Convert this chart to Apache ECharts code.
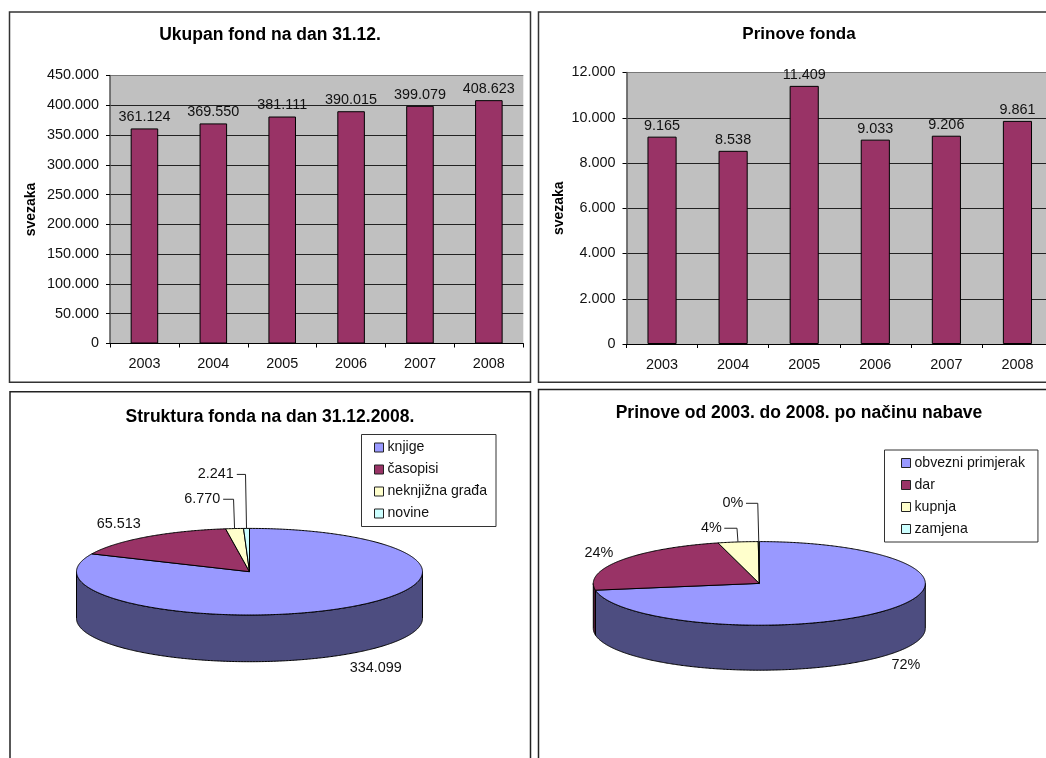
<!DOCTYPE html>
<html>
<head>
<meta charset="utf-8">
<title>Fond</title>
<script src="https://cdn.jsdelivr.net/npm/echarts@6/dist/echarts.min.js"></script>
<style>
  html, body { margin: 0; padding: 0; background: #fff; overflow: hidden; }
  #main { width: 1046px; height: 758px; }
</style>
</head>
<body>
<div id="main"></div>
<script>
"use strict";
// podaci
const years = ['2003', '2004', '2005', '2006', '2007', '2008'];
const ukupanFond = [361124, 369550, 381111, 390015, 399079, 408623];
const prinove = [9165, 8538, 11409, 9033, 9206, 9861];

const strukturaNames = ['knjige', 'časopisi', 'neknjižna građa', 'novine'];
const strukturaValues = [334099, 65513, 6770, 2241];

const nabavaNames = ['obvezni primjerak', 'dar', 'kupnja', 'zamjena'];
const nabavaValues = [72.4, 23.6, 3.9, 0.1]; // postoci, procjena sa slike

const pieColors = ['#9999FF', '#993366', '#FFFFCC', '#CCFFFF'];
const font = '"Liberation Sans", Arial, sans-serif';
const textColor = '#111';

const chart = echarts.init(document.getElementById('main'), null, { renderer: 'canvas' });

// tocka na elipsi, kut od 12 sati u smjeru kazaljke
function ellipsePoint(p, deg, shift) {
  const a = deg * Math.PI / 180;
  return [p.cx + p.rx * Math.sin(a), p.cy - p.ry * Math.cos(a) + (shift || 0)];
}

function arcPoints(p, from, to, shift) {
  const pts = [];
  const steps = Math.max(2, Math.ceil(Math.abs(to - from) * 2));
  for (let i = 0; i <= steps; i++) {
    pts.push(ellipsePoint(p, from + (to - from) * i / steps, shift));
  }
  return pts;
}

// rub valjka je upola tamniji od plohe
function rimColor(color) {
  const c = echarts.color.parse(color);
  return 'rgb(' + Math.round(c[0] / 2) + ',' + Math.round(c[1] / 2) + ',' + Math.round(c[2] / 2) + ')';
}

// jedna serija po kategoriji, tako legenda dobije sve stavke
function pieSeries(names, values, p, format) {
  const total = values.reduce((s, v) => s + v, 0);
  let acc = 0;
  return names.map((name, idx) => {
    const start = acc / total * 360;
    acc += values[idx];
    const end = acc / total * 360;
    return {
      type: 'custom',
      name: name,
      coordinateSystem: 'none',
      silent: true,
      itemStyle: { color: pieColors[idx] },
      data: [[values[idx]]],
      renderItem: function (params, api) {
        const color = api.visual('color');
        const children = [];
        // prednji rub valjka
        const rimFrom = Math.max(start, 90);
        const rimTo = Math.min(end, 270);
        if (rimTo > rimFrom) {
          children.push({
            type: 'polygon',
            shape: { points: arcPoints(p, rimFrom, rimTo, 0).concat(arcPoints(p, rimTo, rimFrom, p.depth)) },
            style: { fill: rimColor(color), stroke: '#000', lineWidth: 1 }
          });
        }
        // gornja ploha
        children.push({
          type: 'polygon',
          shape: { points: [[p.cx, p.cy]].concat(arcPoints(p, start, end, 0)) },
          style: { fill: color, stroke: '#000', lineWidth: 1 }
        });
        const anchor = ellipsePoint(p, (start + end) / 2, 0);
        const off = p.labels[idx];
        const lx = anchor[0] + off[0];
        const ly = anchor[1] + off[1];
        children.push({
          type: 'text',
          x: lx,
          y: ly,
          style: {
            text: format(api.value(0), total),
            fill: textColor,
            font: '14.4px ' + font,
            align: 'center',
            verticalAlign: 'middle'
          }
        });
        // spojnica za male isjecke
        if (off[2]) {
          children.push({
            type: 'polyline',
            shape: { points: [[lx + off[2], ly], [anchor[0] - 1, ly], anchor] },
            style: { fill: 'none', stroke: '#222', lineWidth: 1 }
          });
        }
        return { type: 'group', children: children };
      }
    };
  });
}

const thousands = v => String(v).replace(/\B(?=(\d{3})+$)/g, '.');

const pieStruktura = {
  cx: 249.5, cy: 571.7, rx: 173, ry: 43.3, depth: 46.7,
  labels: [[32.4, 60.2], [-27.2, -13], [-32.4, -29.3, 21], [-30.7, -54, 21]]
};
const pieNabava = {
  cx: 759.3, cy: 583.4, rx: 166, ry: 41.8, depth: 45,
  labels: [[20.1, 54.9], [-21.3, -7.3], [-26.7, -13.7, 13], [-25.8, -38.3, 13]]
};

// desni graf izlazi iz okvira slike, zato outerBoundsMode none
function barGrid(left, top, width, height) {
  return {
    left: left, top: top, width: width, height: height, outerBoundsMode: 'none',
    show: true, backgroundColor: '#C0C0C0', borderWidth: 0
  };
}

function xAxis(i) {
  return {
    type: 'category', gridIndex: i, data: years,
    axisLine: { lineStyle: { color: '#000', width: 1 } },
    axisTick: { show: true, alignWithLabel: false, length: 4, lineStyle: { color: '#000' } },
    axisLabel: { color: textColor, fontFamily: font, fontSize: 14.4, margin: 14 }
  };
}

function yAxis(i, max, interval, gap) {
  // gornja linija je svjetlija od ostalih
  const lineColors = new Array(max / interval).fill('#222').concat('#777');
  return {
    type: 'value', gridIndex: i, min: 0, max: max, interval: interval,
    name: 'svezaka', nameLocation: 'middle', nameGap: gap, nameRotate: 90,
    nameTextStyle: { color: '#000', fontFamily: font, fontSize: 14, fontWeight: 'bold' },
    axisLine: { show: true, lineStyle: { color: '#555', width: 1.5 } },
    axisTick: { show: true, length: 4, lineStyle: { color: '#000' } },
    axisLabel: { color: textColor, fontFamily: font, fontSize: 14.4, margin: 11, formatter: thousands },
    splitLine: { show: true, lineStyle: { color: lineColors, width: 1 } }
  };
}

function barSeries(i, values, width) {
  return {
    type: 'bar', xAxisIndex: i, yAxisIndex: i, data: values, barWidth: width, silent: true,
    itemStyle: { color: '#993366', borderColor: '#000', borderWidth: 1 },
    label: {
      show: true, position: 'top', distance: 4, color: textColor,
      fontFamily: font, fontSize: 14.4, formatter: p => thousands(p.value)
    }
  };
}

function title(text, x, y, size) {
  return {
    text: text, left: x, top: y, textAlign: 'center', padding: 0,
    textStyle: { color: '#000', fontFamily: font, fontSize: size, fontWeight: 'bold' }
  };
}

function legend(names, left, top, padding) {
  return {
    data: names, left: left, top: top, orient: 'vertical', icon: 'rect', selectedMode: false,
    itemWidth: 9, itemHeight: 9, itemGap: 8, padding: padding,
    backgroundColor: '#fff', borderColor: '#333', borderWidth: 1,
    itemStyle: { borderColor: '#222', borderWidth: 1 },
    textStyle: { color: textColor, fontFamily: font, fontSize: 14.1, padding: [0, 0, 0, -1] }
  };
}

function panel(x, y, w, h, color) {
  return {
    type: 'rect', silent: true, z: -1,
    shape: { x: x, y: y, width: w, height: h },
    style: { fill: '#fff', stroke: color, lineWidth: 1.5 }
  };
}

chart.setOption({
  animation: false,
  tooltip: { show: false },
  color: pieColors,
  title: [
    title('Ukupan fond na dan 31.12.', 270, 26, 17.5),
    title('Prinove fonda', 799, 25.5, 17),
    title('Struktura fonda na dan 31.12.2008.', 270, 408, 17.5),
    title('Prinove od 2003. do 2008. po načinu nabave', 799, 404, 17.5)
  ],
  graphic: [
    panel(9.5, 12, 521, 370.3, '#333'),
    panel(538.5, 12, 540, 370.3, '#333'),
    panel(10, 391.8, 520.5, 400, '#222'),
    panel(538.5, 389.5, 540, 400, '#222')
  ],
  grid: [barGrid(110, 75.5, 413.3, 268), barGrid(626.5, 72.5, 426.5, 271.5)],
  xAxis: [xAxis(0), xAxis(1)],
  yAxis: [yAxis(0, 450000, 50000, 72), yAxis(1, 12000, 2000, 60)],
  legend: [
    legend(strukturaNames, 361.5, 434.5, [6, 9, 6, 12.5]),
    legend(nabavaNames, 884.5, 450, [6, 13, 6, 16.5])
  ],
  series: [barSeries(0, ukupanFond, '40%'), barSeries(1, prinove, '41%')]
    .concat(pieSeries(strukturaNames, strukturaValues, pieStruktura, v => thousands(v)))
    .concat(pieSeries(nabavaNames, nabavaValues, pieNabava, (v, total) => Math.round(v / total * 100) + '%'))
});
</script>
</body>
</html>
